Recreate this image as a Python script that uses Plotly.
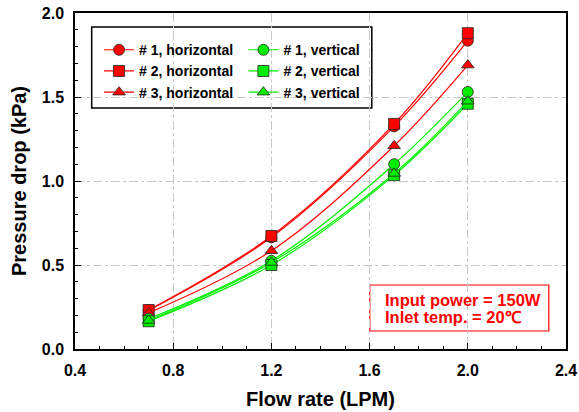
import plotly.graph_objects as go

# Flow rate (LPM) at which pressure drop was measured
flow_rate = [0.7, 1.2, 1.7, 2.0]

# Pressure drop (kPa) for each sample / orientation
p1_horizontal = [0.23, 0.665, 1.325, 1.835]
p2_horizontal = [0.232, 0.673, 1.34, 1.88]
p3_horizontal = [0.215, 0.585, 1.21, 1.69]
p1_vertical = [0.18, 0.525, 1.10, 1.53]
p2_vertical = [0.165, 0.50, 1.035, 1.46]
p3_vertical = [0.17, 0.515, 1.045, 1.475]

series = [
    ("# 1, horizontal", p1_horizontal, "circle", "#ff0000", "legend"),
    ("# 2, horizontal", p2_horizontal, "square", "#ff0000", "legend"),
    ("# 3, horizontal", p3_horizontal, "triangle-up", "#ff0000", "legend"),
    ("# 1, vertical", p1_vertical, "circle", "#00ee00", "legend2"),
    ("# 2, vertical", p2_vertical, "square", "#00ee00", "legend2"),
    ("# 3, vertical", p3_vertical, "triangle-up", "#00ee00", "legend2"),
]

FONT = "Liberation Sans, Arial, sans-serif"

fig = go.Figure()
for name, vals, sym, col, leg in series:
    fig.add_trace(go.Scatter(
        x=flow_rate, y=vals, name=name, mode="lines+markers",
        line=dict(color=col, width=1.2, shape="spline", smoothing=1.0),
        marker=dict(symbol=sym, size=11, color=col,
                    line=dict(color="#222222", width=0.8)),
        legend=leg,
    ))

axis_common = dict(
    showline=True, linecolor="black", linewidth=1.5, mirror=True,
    ticks="inside", ticklen=6, tickwidth=1.2, tickcolor="black",
    showgrid=True, gridcolor="#c8c8c8", griddash="dashdot", gridwidth=1,
    zeroline=False, automargin=False,
    tickfont=dict(family=FONT, size=16, color="black", weight="bold"),
    minor=dict(ticks="inside", ticklen=3, tickwidth=1, tickcolor="black",
               showgrid=False),
)

fig.update_xaxes(
    range=[0.4, 2.4], tickvals=[0.4, 0.8, 1.2, 1.6, 2.0, 2.4],
    ticktext=["0.4", "0.8", "1.2", "1.6", "2.0", "2.4"],
    title=dict(text="Flow rate (LPM)", standoff=14,
               font=dict(family=FONT, size=20, color="black", weight="bold")),
    ticklabelstandoff=6,
    **axis_common,
)
fig.update_xaxes(minor_dtick=0.1)
fig.update_yaxes(
    range=[0, 2.0], tickvals=[0.0, 0.5, 1.0, 1.5, 2.0],
    ticktext=["0.0", "0.5", "1.0", "1.5", "2.0"],
    title=dict(text="Pressure drop (kPa)", standoff=10,
               font=dict(family=FONT, size=20, color="black", weight="bold")),
    ticklabelstandoff=6,
    **axis_common,
)
fig.update_yaxes(minor_dtick=0.1)

legend_font = dict(family=FONT, size=14, color="black", weight="bold")

fig.update_layout(
    width=579, height=412,
    margin=dict(l=75, r=12.5, t=13, b=63),
    paper_bgcolor="white", plot_bgcolor="white",
    legend=dict(x=0.049, y=0.937, xanchor="left", yanchor="top",
                bgcolor="rgba(0,0,0,0)", borderwidth=0,
                font=legend_font, tracegroupgap=0),
    legend2=dict(x=0.343, y=0.937, xanchor="left", yanchor="top",
                 bgcolor="rgba(0,0,0,0)", borderwidth=0,
                 font=legend_font, tracegroupgap=0),
    shapes=[
        # frame around both legend columns
        dict(type="rect", xref="paper", yref="paper",
             x0=0.034, x1=0.6045, y0=0.717, y1=0.958,
             line=dict(color="black", width=1.5), fillcolor="white",
             layer="between"),
        # box for the test conditions
        dict(type="rect", xref="paper", yref="paper",
             x0=0.6004, x1=0.965, y0=0.0536, y1=0.1905,
             line=dict(color="#ff0000", width=1.2), fillcolor="white",
             layer="between"),
    ],
    annotations=[
        dict(text="Input power = 150W", xref="paper", yref="paper",
             x=0.6268, y=0.1458, xanchor="left", yanchor="middle",
             showarrow=False,
             font=dict(family=FONT, size=16.5, color="#ff0000", weight="bold")),
        dict(text="Inlet temp. = 20℃", xref="paper", yref="paper",
             x=0.6268, y=0.0943, xanchor="left", yanchor="middle",
             showarrow=False,
             font=dict(family=FONT, size=16.5, color="#ff0000", weight="bold")),
    ],
)

fig.write_html("out.html")
